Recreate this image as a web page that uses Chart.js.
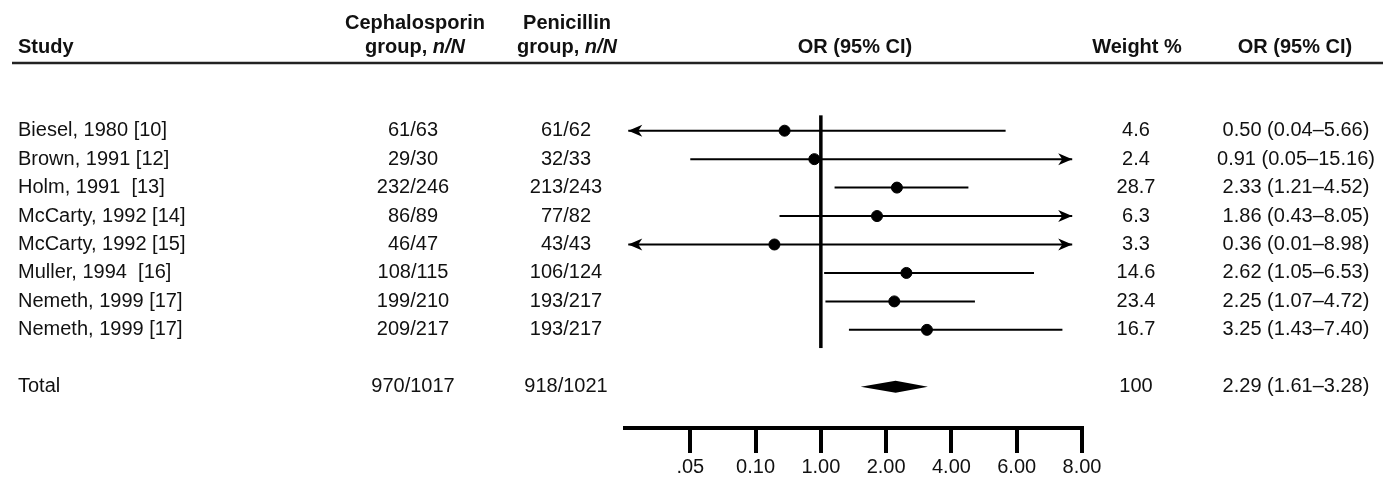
<!DOCTYPE html>
<html>
<head>
<meta charset="utf-8">
<script src="https://cdn.jsdelivr.net/npm/chart.js@4.4.1/dist/chart.umd.min.js"></script>
<style>
  body { margin: 0; background: #fff; }
  #wrap { width: 1383px; height: 477px; }
</style>
</head>
<body>
<div id="wrap"><canvas id="myChart"></canvas></div>
<script>
studies = ['Biesel, 1980 [10]', 'Brown, 1991 [12]', 'Holm, 1991  [13]', 'McCarty, 1992 [14]',
           'McCarty, 1992 [15]', 'Muller, 1994  [16]', 'Nemeth, 1999 [17]', 'Nemeth, 1999 [17]'];
cephaloGroup = ['61/63', '29/30', '232/246', '86/89', '46/47', '108/115', '199/210', '209/217'];
penicillinGroup = ['61/62', '32/33', '213/243', '77/82', '43/43', '106/124', '193/217', '193/217'];
oddsRatio = [0.50, 0.91, 2.33, 1.86, 0.36, 2.62, 2.25, 3.25];
ciLower = [0.04, 0.05, 1.21, 0.43, 0.01, 1.05, 1.07, 1.43];
ciUpper = [5.66, 15.16, 4.52, 8.05, 8.98, 6.53, 4.72, 7.40];
weights = [4.6, 2.4, 28.7, 6.3, 3.3, 14.6, 23.4, 16.7];

totalRow = ['Total', '970/1017', '918/1021'];
totalOR = [2.29, 1.61, 3.28];   // estimate, lower, upper
totalWeight = 100;

tickValues = [0.05, 0.1, 1, 2, 4, 6, 8];
tickLabels = ['.05', '0.10', '1.00', '2.00', '4.00', '6.00', '8.00'];

const TOTAL_ROW = 9;
const LEFT_TIP = -0.95, RIGHT_TIP = 5.85;   // where clipped CI arrows end
const FONT = "'Liberation Sans', Arial, sans-serif";

// the axis is spaced evenly by tick, so map an OR to its place between ticks
function orPos(v) {
    if (v < tickValues[0]) return LEFT_TIP;
    if (v > tickValues[tickValues.length - 1]) return RIGHT_TIP;
    for (let i = 0; i < tickValues.length - 1; i++) {
        if (v <= tickValues[i + 1]) {
            return i + (v - tickValues[i]) / (tickValues[i + 1] - tickValues[i]);
        }
    }
    return tickValues.length - 1;
}

function fmtOR(o, l, u) {
    return o.toFixed(2) + ' (' + l.toFixed(2) + '\u2013' + u.toFixed(2) + ')';
}

const ciSets = studies.map((s, i) => ({
    type: 'line',
    label: s,
    data: [{ x: orPos(ciLower[i]), y: i }, { x: orPos(ciUpper[i]), y: i }],
    borderColor: '#000',
    borderWidth: 2,
    pointRadius: 0,
    order: 1
}));

const pointSet = {
    type: 'scatter',
    label: 'OR',
    data: oddsRatio.map((v, i) => ({ x: orPos(v), y: i })),
    backgroundColor: '#000',
    borderColor: '#000',
    pointRadius: 5.5,
    order: 0
};

const forestExtras = {
    id: 'forestExtras',
    beforeDatasetsDraw(chart) {
        const ctx = chart.ctx, xs = chart.scales.x, ys = chart.scales.y;
        ctx.save();
        // line of no effect at OR = 1
        ctx.strokeStyle = '#000';
        ctx.lineWidth = 3.5;
        ctx.beginPath();
        ctx.moveTo(xs.getPixelForValue(orPos(1)), ys.getPixelForValue(-0.54));
        ctx.lineTo(xs.getPixelForValue(orPos(1)), ys.getPixelForValue(7.64));
        ctx.stroke();
        ctx.restore();
    },
    afterDatasetsDraw(chart) {
        const ctx = chart.ctx, xs = chart.scales.x, ys = chart.scales.y;
        ctx.save();
        ctx.fillStyle = '#000';
        // arrowheads for intervals running past the axis
        studies.forEach((s, i) => {
            const y = ys.getPixelForValue(i);
            const ends = [];
            if (ciLower[i] < tickValues[0]) ends.push([xs.getPixelForValue(LEFT_TIP), -1]);
            if (ciUpper[i] > tickValues[tickValues.length - 1]) ends.push([xs.getPixelForValue(RIGHT_TIP), 1]);
            ends.forEach(([x, d]) => {
                ctx.beginPath();
                ctx.moveTo(x, y);
                ctx.lineTo(x - d * 14, y - 6);
                ctx.lineTo(x - d * 10, y);
                ctx.lineTo(x - d * 14, y + 6);
                ctx.closePath();
                ctx.fill();
            });
        });
        // pooled diamond
        const ty = ys.getPixelForValue(TOTAL_ROW);
        ctx.beginPath();
        ctx.moveTo(xs.getPixelForValue(orPos(totalOR[1])), ty);
        ctx.lineTo(xs.getPixelForValue(orPos(totalOR[0])), ty - 6);
        ctx.lineTo(xs.getPixelForValue(orPos(totalOR[2])), ty);
        ctx.lineTo(xs.getPixelForValue(orPos(totalOR[0])), ty + 6);
        ctx.closePath();
        ctx.fill();
        ctx.restore();
    },
    afterDraw(chart) {
        const ctx = chart.ctx, ys = chart.scales.y;
        ctx.save();
        ctx.fillStyle = '#111';
        ctx.textBaseline = 'middle';

        // header
        const bold = 'bold 20px ' + FONT, boldIt = 'italic bold 20px ' + FONT;
        ctx.font = bold;
        ctx.textAlign = 'left';
        ctx.fillText('Study', 18, 47);
        ctx.textAlign = 'center';
        ctx.fillText('Cephalosporin', 415, 23);
        ctx.fillText('Penicillin', 567, 23);
        ctx.fillText('OR (95% CI)', 855, 47);
        ctx.fillText('Weight %', 1137, 47);
        ctx.fillText('OR (95% CI)', 1295, 47);
        [415, 567].forEach(cx => {
            ctx.font = bold;
            const w1 = ctx.measureText('group, ').width;
            ctx.font = boldIt;
            const w2 = ctx.measureText('n/N').width;
            const x0 = cx - (w1 + w2) / 2;
            ctx.textAlign = 'left';
            ctx.font = bold;
            ctx.fillText('group, ', x0, 47);
            ctx.font = boldIt;
            ctx.fillText('n/N', x0 + w1, 47);
        });
        ctx.strokeStyle = '#222';
        ctx.lineWidth = 2.5;
        ctx.beginPath();
        ctx.moveTo(12, 63);
        ctx.lineTo(1383, 63);
        ctx.stroke();

        // rows
        ctx.font = '20px ' + FONT;
        studies.forEach((s, i) => {
            const y = ys.getPixelForValue(i);
            ctx.textAlign = 'left';
            ctx.fillText(s, 18, y);
            ctx.textAlign = 'center';
            ctx.fillText(cephaloGroup[i], 413, y);
            ctx.fillText(penicillinGroup[i], 566, y);
            ctx.fillText(weights[i].toFixed(1), 1136, y);
            ctx.fillText(fmtOR(oddsRatio[i], ciLower[i], ciUpper[i]), 1296, y);
        });
        const ty = ys.getPixelForValue(TOTAL_ROW);
        ctx.textAlign = 'left';
        ctx.fillText(totalRow[0], 18, ty);
        ctx.textAlign = 'center';
        ctx.fillText(totalRow[1], 413, ty);
        ctx.fillText(totalRow[2], 566, ty);
        ctx.fillText(String(totalWeight), 1136, ty);
        ctx.fillText(fmtOR(totalOR[0], totalOR[1], totalOR[2]), 1296, ty);
        ctx.restore();
    }
};

const ctx = document.getElementById('myChart').getContext('2d');
new Chart(ctx, {
    type: 'scatter',
    data: { datasets: [pointSet, ...ciSets] },
    options: {
        responsive: true,
        maintainAspectRatio: false,
        animation: false,
        layout: { padding: { left: 625, right: 301, top: 61, bottom: 0 } },
        plugins: { legend: { display: false }, tooltip: { enabled: false } },
        scales: {
            x: {
                type: 'linear',
                position: 'bottom',
                min: -1,
                max: tickValues.length - 1,
                afterBuildTicks: (scale) => {
                    scale.ticks = tickLabels.map((t, i) => ({ value: i }));
                },
                afterFit: (scale) => { scale.height = 49; },
                ticks: {
                    callback: (v) => tickLabels[v],
                    font: { family: FONT, size: 20 },
                    color: '#111',
                    padding: 2,
                    maxRotation: 0,
                    autoSkip: false
                },
                grid: {
                    drawOnChartArea: false,
                    drawTicks: true,
                    tickLength: 25,
                    tickWidth: 4,
                    lineWidth: 4,
                    color: '#000'
                },
                border: { display: true, width: 4, color: '#000' }
            },
            y: {
                type: 'linear',
                display: false,
                reverse: true,
                min: -2.45,
                max: 10.45
            }
        }
    },
    plugins: [forestExtras]
});
</script>
</body>
</html>
